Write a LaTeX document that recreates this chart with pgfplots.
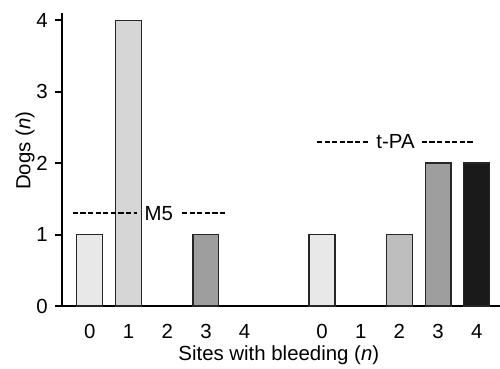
\documentclass[border=0pt]{standalone}
\usepackage{pgfplots}
\pgfplotsset{compat=1.18}
\usepackage{fontspec}
\setmainfont{Liberation Sans}
\definecolor{c0}{HTML}{E8E8E8}
\definecolor{c1}{HTML}{D6D6D6}
\definecolor{c2}{HTML}{BEBEBE}
\definecolor{c3}{HTML}{9E9E9E}
\definecolor{c4}{HTML}{1A1A1A}
\begin{document}
\begin{tikzpicture}
\fontsize{10.2}{12}\selectfont
\begin{axis}[
  at={(0,0)}, anchor=south west,
  scale only axis, width=219pt, height=146.5pt,
  xmin=-0.72, xmax=10.6, ymin=0, ymax=4.1,
  axis x line*=bottom, axis y line*=left,
  axis line style={line width=1pt, -},
  ytick={0,1,2,3,4},
  xtick={0,1,2,3,4,6,7,8,9,10},
  xticklabels={0,1,2,3,4,0,1,2,3,4},
  major x tick style={draw=none},
  major y tick style={line width=1pt, black},
  tick align=outside, major tick length=3.5pt,
  /pgf/number format/assume math mode=true,
  ticklabel style={font=\fontsize{10.2}{12}\selectfont},
  xticklabel style={yshift=-2pt},
  yticklabel style={xshift=0pt},
  xlabel={Sites with bleeding (\textit{n})},
  ylabel={Dogs (\textit{n})},
  label style={font=\fontsize{10.2}{12}\selectfont},
  xlabel style={at={(rel axis cs:0.495,0)}, anchor=center, yshift=-24.5pt},
  ylabel style={at={(rel axis cs:0,0.53)}, anchor=center, yshift=18.5pt},
  ybar, bar width=0.67, bar shift=0pt,
  clip=false,
]
\addplot[fill=c0, draw=black!85, line width=0.6pt] coordinates {(0,1) (6,1)};
\addplot[fill=c1, draw=black!85, line width=0.6pt] coordinates {(1,4)};
\addplot[fill=c2, draw=black!85, line width=0.6pt] coordinates {(8,1)};
\addplot[fill=c3, draw=black!85, line width=0.6pt] coordinates {(3,1) (9,2)};
\addplot[fill=c4, draw=black!85, line width=0.6pt] coordinates {(10,2)};
\draw[line width=1.1pt, dash pattern=on 2.6pt off 1.2pt] (axis cs:-0.44,1.3) -- (axis cs:1.21,1.3);
\draw[line width=1.1pt, dash pattern=on 2.6pt off 1.2pt] (axis cs:2.38,1.3) -- (axis cs:3.54,1.3);
\node at (axis cs:1.78,1.3) {M5};
\draw[line width=1.1pt, dash pattern=on 2.6pt off 1.2pt] (axis cs:5.87,2.3) -- (axis cs:7.24,2.3);
\draw[line width=1.1pt, dash pattern=on 2.6pt off 1.2pt] (axis cs:8.58,2.3) -- (axis cs:9.95,2.3);
\node at (axis cs:7.9,2.3) {t-PA};
\end{axis}
\pgfresetboundingbox
\path[use as bounding box] (-31pt,-31.5pt) rectangle (219pt,153pt);
\end{tikzpicture}
\end{document}
